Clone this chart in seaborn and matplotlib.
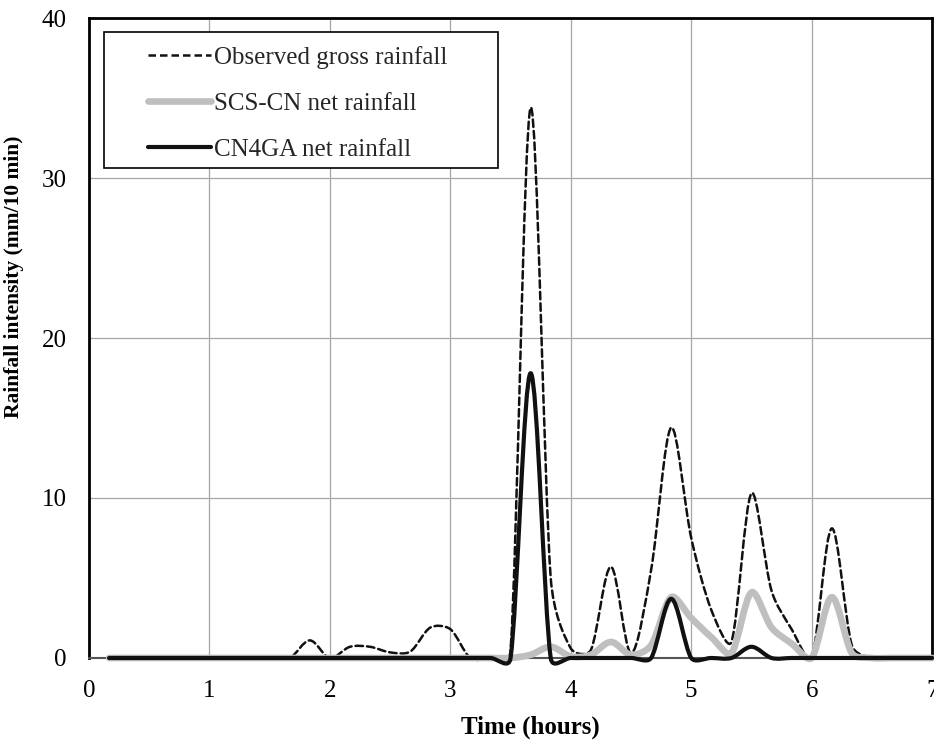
import numpy as np
import matplotlib
matplotlib.use('Agg')
import matplotlib.pyplot as plt
import seaborn as sns
from matplotlib.path import Path
from matplotlib.patches import PathPatch, Rectangle
from matplotlib.lines import Line2D

# Dados (intervalos de 10 min)
time_h = [k / 6 for k in range(1, 43)]
observed = [0, 0, 0, 0, 0, 0, 0, 0, 0, 0,
            1.1, 0, 0.7, 0.7, 0.35, 0.4, 1.9, 1.8, 0, 0,
            0.5, 34.4, 5.0, 0.6, 0.5, 5.7, 0.3, 5.5, 14.4, 7.5,
            3.0, 1.0, 10.3, 4.2, 1.8, 0, 8.1, 0.8, 0, 0,
            0, 0]
scs_cn = [0, 0, 0, 0, 0, 0, 0, 0, 0, 0,
          0, 0, 0, 0, 0, 0, 0, 0, 0, 0,
          0, 0.2, 0.7, 0.1, 0.2, 1.0, 0.2, 0.8, 3.8, 2.5,
          1.3, 0.3, 4.1, 1.9, 0.9, 0, 3.8, 0.3, 0, 0,
          0, 0]
cn4ga = [0, 0, 0, 0, 0, 0, 0, 0, 0, 0,
         0, 0, 0, 0, 0, 0, 0, 0, 0, 0,
         0, 17.8, 0, 0, 0, 0, 0, 0, 3.7, 0,
         0, 0, 0.7, 0, 0, 0, 0, 0, 0, 0,
         0, 0]
labels = ['Observed gross rainfall', 'SCS-CN net rainfall', 'CN4GA net rainfall']

sns.set_theme(style='white')
plt.rcParams['font.family'] = ['Liberation Serif', 'DejaVu Serif']

# escala aproximada em pixels por unidade (para suavizar como o Excel)
SX, SY = 120.4, 16.0


def smooth_path(x, y):
    px = np.asarray(x, dtype=float) * SX
    py = np.asarray(y, dtype=float) * SY
    n = len(px)
    P = np.column_stack([px, py])
    verts = [P[0]]
    codes = [Path.MOVETO]
    for i in range(n - 1):
        i0 = max(i - 1, 0)
        i3 = min(i + 2, n - 1)
        d_prev = np.hypot(*(P[i] - P[i0]))
        d_cur = np.hypot(*(P[i + 1] - P[i]))
        d_next = np.hypot(*(P[i3] - P[i + 1]))
        s1 = 1.0 if d_prev == 0 else min(1.0, np.sqrt(d_cur / d_prev))
        s2 = 1.0 if d_next == 0 else min(1.0, np.sqrt(d_cur / d_next))
        c1 = P[i] + (P[i + 1] - P[i0]) / 6 * s1
        c2 = P[i + 1] - (P[i3] - P[i]) / 6 * s2
        verts += [c1, c2, P[i + 1]]
        codes += [Path.CURVE4] * 3
    verts = np.array(verts) / [SX, SY]
    return Path(verts, codes)


fig, ax = plt.subplots(figsize=(9.34, 7.45), dpi=100)
fig.subplots_adjust(left=0.0953, right=0.998, top=0.9758, bottom=0.1168)

styles = [
    dict(color='#111111', lw=1.8, ls=(0, (3.0, 1.6))),
    dict(color='#bfbfbf', lw=4.8, ls='-'),
    dict(color='#111111', lw=3.0, ls='-'),
]
for series, st in zip([observed, scs_cn, cn4ga], styles):
    patch = PathPatch(smooth_path(time_h, series), facecolor='none',
                      edgecolor=st['color'], lw=st['lw'], linestyle=st['ls'],
                      capstyle='round', joinstyle='round', clip_on=False, zorder=3)
    ax.add_patch(patch)

ax.set_xlim(0, 7)
ax.set_ylim(0, 40)
ax.set_xticks(range(0, 8))
ax.set_yticks(range(0, 41, 10))
ax.grid(True, color='#a6a6a6', lw=0.9)
ax.set_axisbelow(True)
ax.tick_params(axis='both', length=0, labelsize=18, colors='black')
ax.tick_params(axis='y', pad=16)
ax.tick_params(axis='x', pad=16)

for side in ['top', 'right', 'left']:
    ax.spines[side].set_color('black')
    ax.spines[side].set_linewidth(2.0)
ax.spines['bottom'].set_color('#555555')
ax.spines['bottom'].set_linewidth(1.5)

ax.set_xlabel('Time (hours)', fontsize=18, fontweight='bold', color='black')
ax.set_ylabel('Rainfall intensity (mm/10 min)', fontsize=15.5, fontweight='bold', color='black')
ax.xaxis.set_label_coords(0.523, -0.09)
ax.yaxis.set_label_coords(-0.077, 0.595)

# moldura da legenda
ax.add_patch(Rectangle((0.0178, 0.766), 0.467, 0.212, transform=ax.transAxes,
                       facecolor='white', edgecolor='black', lw=1.2, zorder=4))
handles = [Line2D([], [], color=st['color'], lw=st['lw'], ls=st['ls'],
                  solid_capstyle='round', dash_capstyle='butt') for st in styles]
ax.legend(handles, labels, loc='center left', bbox_to_anchor=(0.070, 0.867),
          frameon=False, fontsize=18, borderpad=0, borderaxespad=0,
          handlelength=2.5, handletextpad=0.12, labelspacing=0.94)

fig.savefig('out.png', dpi=100)
